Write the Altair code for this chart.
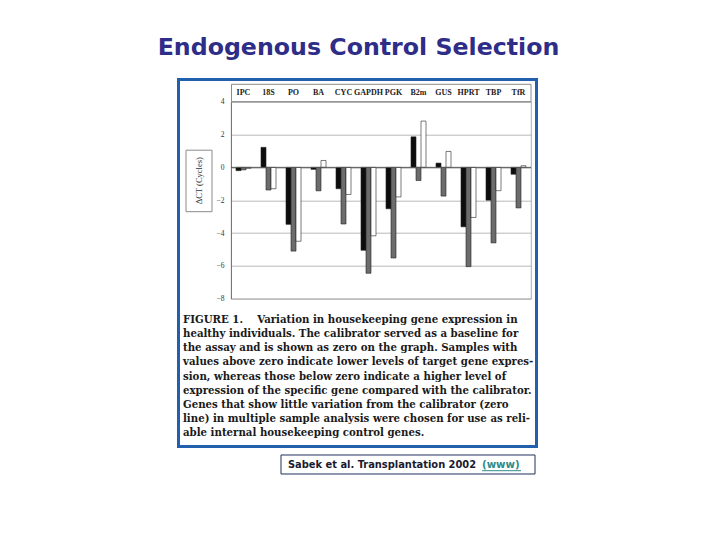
import altair as alt
import pandas as pd

# ---------------- data ----------------
genes = ["IPC", "18S", "PO", "BA", "CYC", "GAPDH", "PGK", "B2m", "GUS", "HPRT", "TBP", "TfR"]
series = ["Sample 1", "Sample 2", "Sample 3"]
sample1 = [-0.2, 1.22, -3.47, -0.12, -1.3, -5.05, -2.52, 1.86, 0.26, -3.62, -2.0, -0.42]
sample2 = [-0.15, -1.38, -5.1, -1.43, -3.45, -6.45, -5.52, -0.8, -1.75, -6.05, -4.6, -2.47]
sample3 = [-0.06, -1.3, -4.5, 0.42, -1.65, -4.17, -1.8, 2.82, 0.97, -3.05, -1.42, 0.1]
y_ticks = [4, 2, 0, -2, -4, -6, -8]

title_text = "Endogenous Control Selection"
y_title = "\u0394CT (Cycles)"
caption_lines = [
    "FIGURE 1.\u00a0\u00a0\u00a0 Variation in housekeeping gene expression in",
    "healthy individuals. The calibrator served as a baseline for",
    "the assay and is shown as zero on the graph. Samples with",
    "values above zero indicate lower levels of target gene expres-",
    "sion, whereas those below zero indicate a higher level of",
    "expression of the specific gene compared with the calibrator.",
    "Genes that show little variation from the calibrator (zero",
    "line) in multiple sample analysis were chosen for use as reli-",
    "able internal housekeeping control genes.",
]
cite_text = "Sabek et al. Transplantation 2002"
cite_link = "(www)"

rows = []
for s, vals in zip(series, [sample1, sample2, sample3]):
    for g, v in zip(genes, vals):
        rows.append({"gene": g, "series": s, "value": v})
df = pd.DataFrame(rows)

one = pd.DataFrame({"k": [0]})

W, H = 300, 197
# plot origin in page pixels: (231, 101.7)
SERIF = "Liberation Serif"

y_axis = alt.Axis(
    values=y_ticks, title=None, ticks=False, domain=True, domainColor="#777",
    grid=True, gridColor="#a8a8a8", gridWidth=0.8,
    labelOverlap=False, labelFlush=False,
    labelFont=SERIF, labelFontSize=7.5, labelColor="#333", labelPadding=7,
)
y_scale = alt.Scale(domain=[-8, 4], nice=False, zero=False)

frame = alt.Chart(one).mark_rect(fill="white", fillOpacity=0, stroke="#2260AE", strokeWidth=3).encode(
    x=alt.value(-52.5), x2=alt.value(305.5), y=alt.value(-22.2), y2=alt.value(344.8)
)

header = alt.Chart(one).mark_rect(fill="white", fillOpacity=0, stroke="#8a8a8a", strokeWidth=1).encode(
    x=alt.value(0.5), x2=alt.value(300), y=alt.value(-17.4), y2=alt.value(0)
)

ybox = alt.Chart(one).mark_rect(fill="white", stroke="#8a8a8a", strokeWidth=1).encode(
    x=alt.value(-45), x2=alt.value(-19), y=alt.value(48.5), y2=alt.value(110)
)
ytitle = alt.Chart(one).mark_text(
    text=y_title, angle=270, font=SERIF, fontSize=8.5, color="#333", align="center", baseline="middle"
).encode(x=alt.value(-32), y=alt.value(79))

bars = alt.Chart(df).mark_bar(stroke="#222", strokeWidth=0.6).encode(
    x=alt.X(
        "gene:N",
        sort=genes,
        scale=alt.Scale(paddingInner=0.4, paddingOuter=0.2),
        axis=alt.Axis(
            orient="top", title=None, ticks=False, domain=False, labelAngle=0,
            labelFont=SERIF, labelFontWeight="bold", labelFontSize=8, labelColor="#222",
            labelPadding=5,
        ),
    ),
    xOffset=alt.XOffset("series:N", sort=series, scale=alt.Scale(paddingInner=0, paddingOuter=0)),
    y=alt.Y("value:Q", scale=y_scale, axis=y_axis),
    color=alt.Color("series:N", sort=series,
                    scale=alt.Scale(domain=series, range=["#0d0d0d", "#6c6c6c", "#ffffff"]),
                    legend=None),
)

zero = alt.Chart(pd.DataFrame({"value": [0]})).mark_rule(color="#555", strokeWidth=1).encode(
    y=alt.Y("value:Q", scale=y_scale, axis=y_axis)
)

title = alt.Chart(one).mark_text(
    text=title_text, font="DejaVu Sans", fontWeight="bold", fontSize=23.7, color="#2E2D88",
    align="center", baseline="middle"
).encode(x=alt.value(127.5), y=alt.value(-53.2))

caption = alt.Chart(one).mark_text(
    text=caption_lines, font="DejaVu Serif", fontWeight="bold", fontSize=10.2, lineHeight=14.1,
    color="#1a1a1a", align="left", baseline="middle"
).encode(x=alt.value(-48), y=alt.value(218.5))

cite_box = alt.Chart(one).mark_rect(fill="white", stroke="#1f2f5a", strokeWidth=1).encode(
    x=alt.value(50), x2=alt.value(304), y=alt.value(353.3), y2=alt.value(372.3)
)
cite = alt.Chart(one).mark_text(
    text=cite_text, font="DejaVu Sans", fontWeight="bold", fontSize=9.9, color="#1a1a2e",
    align="left", baseline="middle"
).encode(x=alt.value(57), y=alt.value(363))
link = alt.Chart(one).mark_text(
    text=cite_link, font="DejaVu Sans", fontWeight="bold", fontSize=10.2, color="#2E8B8B",
    align="left", baseline="middle"
).encode(x=alt.value(251), y=alt.value(363))
link_ul = alt.Chart(one).mark_rule(color="#2E8B8B", strokeWidth=1).encode(
    x=alt.value(251), x2=alt.value(290), y=alt.value(369)
)

chart = alt.layer(
    frame, header, ybox, ytitle, bars, zero, title, caption, cite_box, cite, link, link_ul
).properties(
    width=W, height=H,
    padding={"left": 223, "top": 93.7, "right": 181, "bottom": 233.3},
    autosize=alt.AutoSizeParams(type="none"),
    background="white",
).configure_view(stroke="#999", strokeWidth=0.8)

chart.save("out.html", embed_options={"renderer": "svg", "actions": False})
